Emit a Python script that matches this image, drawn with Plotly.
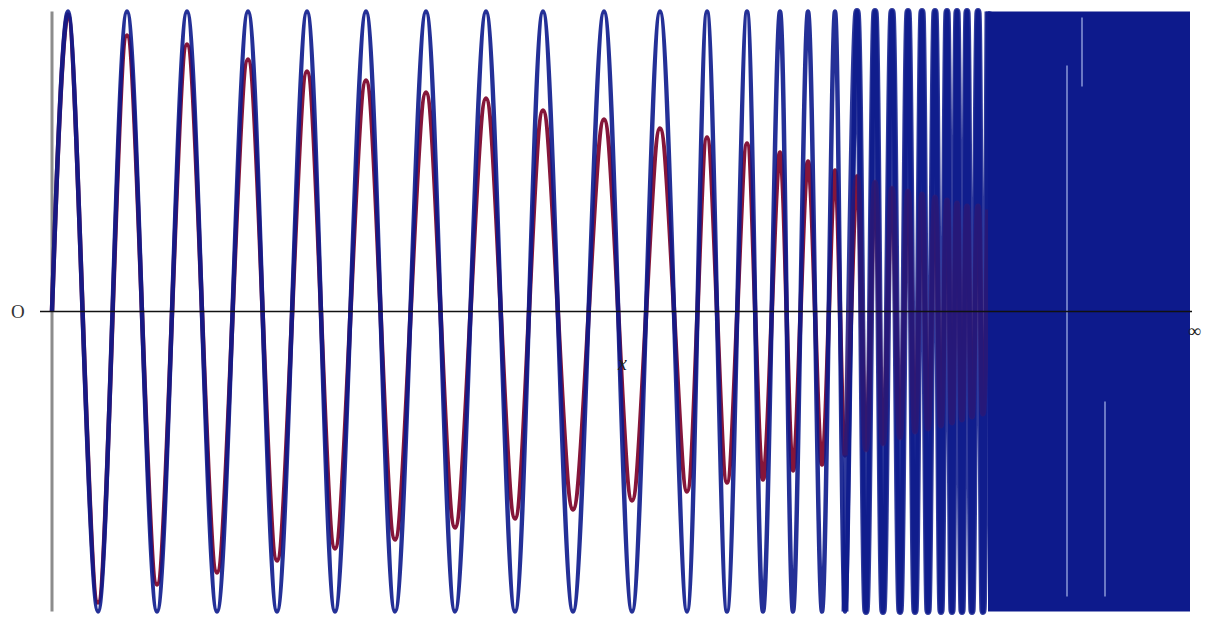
import plotly.graph_objects as go

ext_x = [0, 16, 46, 75, 105, 135, 165, 196, 225, 255, 283, 314, 343, 374, 403,
         434, 463, 491, 521, 552, 580, 608, 635, 655, 675, 695, 711, 728, 741,
         756, 770, 783, 793, 805, 814, 823, 831, 840, 848, 856, 863, 870, 876,
         883, 889, 895, 900, 905, 910, 915, 920, 926, 931, 936]

# Blue curve: constant amplitude oscillation
blue_y = [0, 1, -1, 1, -1, 1, -1, 1, -1, 1, -1, 1, -1, 1, -1,
          1, -1, 1, -1, 1, -1, 1, -1, 1, -1, 1, -1, 1, -1,
          1, -1, 1, -1, 1, -1, 1, -1, 1, -1, 1, -1, 1, -1,
          1, -1, 1, -1, 1, -1, 1, -1, 1, -1, 1]

# Red curve: decaying amplitude oscillation
red_y = [0, 0.99, -0.97, 0.92, -0.91, 0.89, -0.87, 0.84, -0.83, 0.80, -0.79,
         0.77, -0.76, 0.73, -0.72, 0.71, -0.69, 0.67, -0.66, 0.64, -0.63,
         0.61, -0.60, 0.58, -0.57, 0.56, -0.56, 0.53, -0.53, 0.50, -0.51,
         0.47, -0.48, 0.45, -0.46, 0.43, -0.44, 0.41, -0.42, 0.40, -0.40,
         0.39, -0.39, 0.38, -0.38, 0.37, -0.37, 0.36, -0.36, 0.35, -0.35,
         0.35, -0.34, 0.34]

# Where the drawn oscillation becomes so fast that the strokes merge
merge_from = 793

# Unresolved (too fast to draw) part of the blue oscillation
dense_start = 936
dense_end = 1138
dense_amp = 1.0

# Light streaks inside the dense part
streak_x = [1015, 1053, 1030]
streak_lo = [-0.95, -0.95, 0.75]
streak_hi = [0.82, -0.30, 0.98]

BLUE = "#0d1a8c"
RED = "#85163a"

fig = go.Figure()

fig.add_trace(go.Scatter(x=ext_x, y=red_y, mode="lines",
                         line=dict(color=RED, width=4.5, shape="spline", smoothing=1.0),
                         hoverinfo="skip", showlegend=False))
fig.add_trace(go.Scatter(x=ext_x, y=blue_y, mode="lines", opacity=0.9,
                         line=dict(color=BLUE, width=4.5, shape="spline", smoothing=1.0),
                         hoverinfo="skip", showlegend=False))

# thicker strokes where the oscillation gets fast
i0 = next(i for i, v in enumerate(ext_x) if v >= merge_from)
fig.add_trace(go.Scatter(x=ext_x[i0:], y=blue_y[i0:], mode="lines", opacity=0.85,
                         line=dict(color=BLUE, width=7, shape="spline", smoothing=1.0),
                         hoverinfo="skip", showlegend=False))
fig.add_trace(go.Scatter(x=ext_x[i0:], y=red_y[i0:], mode="lines", opacity=0.2,
                         line=dict(color=RED, width=6, shape="spline", smoothing=1.0),
                         hoverinfo="skip", showlegend=False))

fig.add_trace(go.Scatter(x=[dense_start, dense_end, dense_end, dense_start, dense_start],
                         y=[-dense_amp, -dense_amp, dense_amp, dense_amp, -dense_amp],
                         mode="lines", fill="toself", fillcolor=BLUE,
                         line=dict(color=BLUE, width=0),
                         hoverinfo="skip", showlegend=False))

sx, sy = [], []
for x, lo, hi in zip(streak_x, streak_lo, streak_hi):
    sx += [x, x, None]
    sy += [lo, hi, None]
fig.add_trace(go.Scatter(x=sx, y=sy, mode="lines",
                         line=dict(color="#6a78c4", width=2),
                         hoverinfo="skip", showlegend=False))

fig.add_shape(type="line", xref="x", yref="y", x0=0, x1=0, y0=-1.0, y1=1.0,
              line=dict(color="#8c8c8c", width=3), layer="below")
fig.add_shape(type="line", xref="x", yref="y", x0=-12, x1=1140, y0=0, y1=0,
              line=dict(color="#111111", width=1.5), layer="above")

fig.add_annotation(x=-34, y=0, text="O", showarrow=False,
                   font=dict(family="Liberation Serif", size=19, color="#333333"))
fig.add_annotation(x=570, y=-0.17, text="<i>x</i>", showarrow=False,
                   font=dict(family="Liberation Serif", size=20, color="#222222"))
fig.add_annotation(x=1134, y=-0.065, text="∞", showarrow=False, xanchor="left",
                   font=dict(family="Liberation Serif", size=18, color="#222222"))

fig.update_layout(
    width=1205, height=617,
    margin=dict(l=0, r=0, t=0, b=0),
    paper_bgcolor="white", plot_bgcolor="white",
    xaxis=dict(range=[-52, 1153], visible=False, fixedrange=True),
    yaxis=dict(range=[-1.0183, 1.0383], visible=False, fixedrange=True),
)

fig.write_html("out.html", config={"displayModeBar": False},
               post_script="document.body.style.margin='0';document.body.style.overflow='hidden';")
